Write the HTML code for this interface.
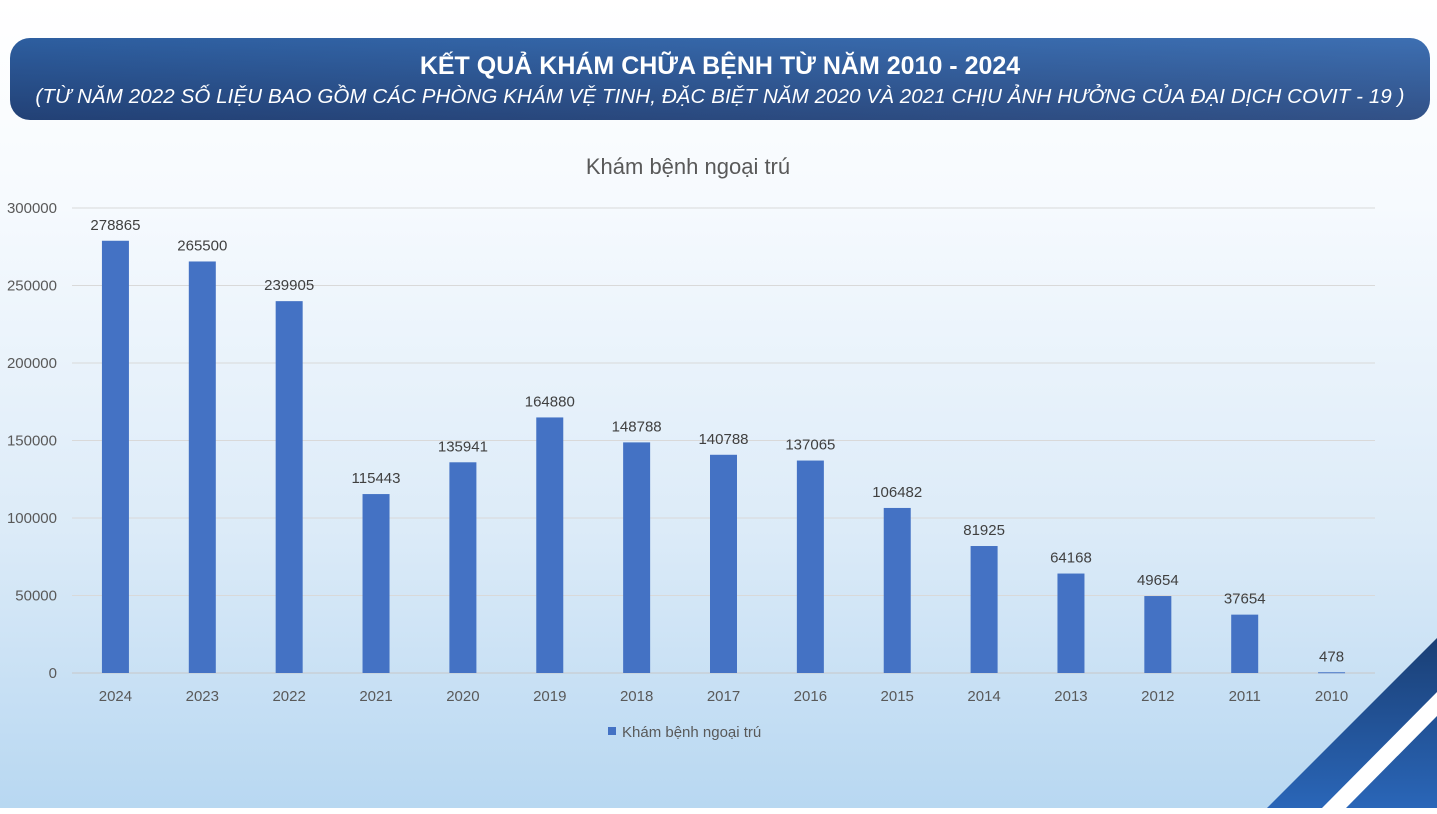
<!DOCTYPE html>
<html><head><meta charset="utf-8"><style>
body{margin:0;width:1437px;height:814px;overflow:hidden;font-family:"Liberation Sans",sans-serif;background:linear-gradient(#ffffff 0%,#f6fafe 25%,#dcebf8 65%,#b7d7f1 100%);position:relative}
#banner{position:absolute;left:10px;top:38px;width:1420px;height:82px;border-radius:20px;background:linear-gradient(90deg,rgba(0,0,0,0.08),rgba(255,255,255,0.06)),linear-gradient(#3166ad,#25467f);color:#fff;text-align:center}
#t1{position:absolute;top:14px;left:0;right:0;font-weight:bold;font-size:25px}
#t2{position:absolute;top:47px;left:0;right:0;font-style:italic;font-size:20.5px;letter-spacing:0.1px}
svg{position:absolute;left:0;top:0}
</style></head><body>
<div id="banner">
<div id="t1">KẾT QUẢ KHÁM CHỮA BỆNH TỪ NĂM 2010 - 2024</div>
<div id="t2">(TỪ NĂM 2022 SỐ LIỆU BAO GỒM CÁC PHÒNG KHÁM VỆ TINH, ĐẶC BIỆT NĂM 2020 VÀ 2021 CHỊU ẢNH HƯỞNG CỦA ĐẠI DỊCH COVIT - 19 )</div>
</div>
<svg id="chart" width="1437" height="814">
<defs><linearGradient id="dg" x1="0" y1="0" x2="0" y2="1"><stop offset="0" stop-color="#1a3f75"/><stop offset="1" stop-color="#2a66b8"/></linearGradient></defs>
<text x="688" y="174" text-anchor="middle" font-size="22" fill="#595959">Khám bệnh ngoại trú</text>
<g id="grid"></g><g id="bars"></g>
<rect x="608" y="727" width="8" height="8" fill="#4472c4"/>
<text x="622" y="737" font-size="15" fill="#595959">Khám bệnh ngoại trú</text>
<polygon points="1267,808 1437,638 1437,808" fill="url(#dg)"/>
<polygon points="1322,808 1437,692 1437,716 1346,808" fill="#ffffff"/>
<rect x="0" y="808" width="1437" height="6" fill="#ffffff"/>
</svg>
<script>
const categories=["2024","2023","2022","2021","2020","2019","2018","2017","2016","2015","2014","2013","2012","2011","2010"];
const values=[278865,265500,239905,115443,135941,164880,148788,140788,137065,106482,81925,64168,49654,37654,478];
const ticks=[0,50000,100000,150000,200000,250000,300000];
const NS="http://www.w3.org/2000/svg";
const y0=673,yTop=208,yMax=300000,xL=72,xR=1375;
const y=v=>y0-(v/yMax)*(y0-yTop);
const step=(xR-xL)/categories.length;
const x=i=>xL+step*(i+0.5);
const grid=document.getElementById('grid'),bars=document.getElementById('bars');
function mk(t,a,p){const e=document.createElementNS(NS,t);for(const k in a)e.setAttribute(k,a[k]);p.appendChild(e);return e;}
ticks.forEach(t=>{
 const l=mk('line',{x1:xL,x2:xR,y1:y(t),y2:y(t),stroke:t===0?'#c8c8c8':'#d9d9d9','stroke-width':1},grid);
 
 
 const tx=mk('text',{x:57,y:y(t)+5,'text-anchor':'end','font-size':15,fill:'#595959'},grid);
 tx.textContent=t;
 
 
});
categories.forEach((c,i)=>{
 const v=values[i],bw=27;
 const r=mk('rect',{x:x(i)-bw/2,y:y(v),width:bw,height:Math.max(y0-y(v),1),fill:'#4472c4'},bars);
 
 
 const lb=mk('text',{x:x(i),y:y(v)-11,'text-anchor':'middle','font-size':15,fill:'#404040'},bars);
 lb.textContent=v;
 
 
 const xl=mk('text',{x:x(i),y:701,'text-anchor':'middle','font-size':15,fill:'#595959'},bars);
 xl.textContent=c;
 
 
});
</script>
</body></html>
